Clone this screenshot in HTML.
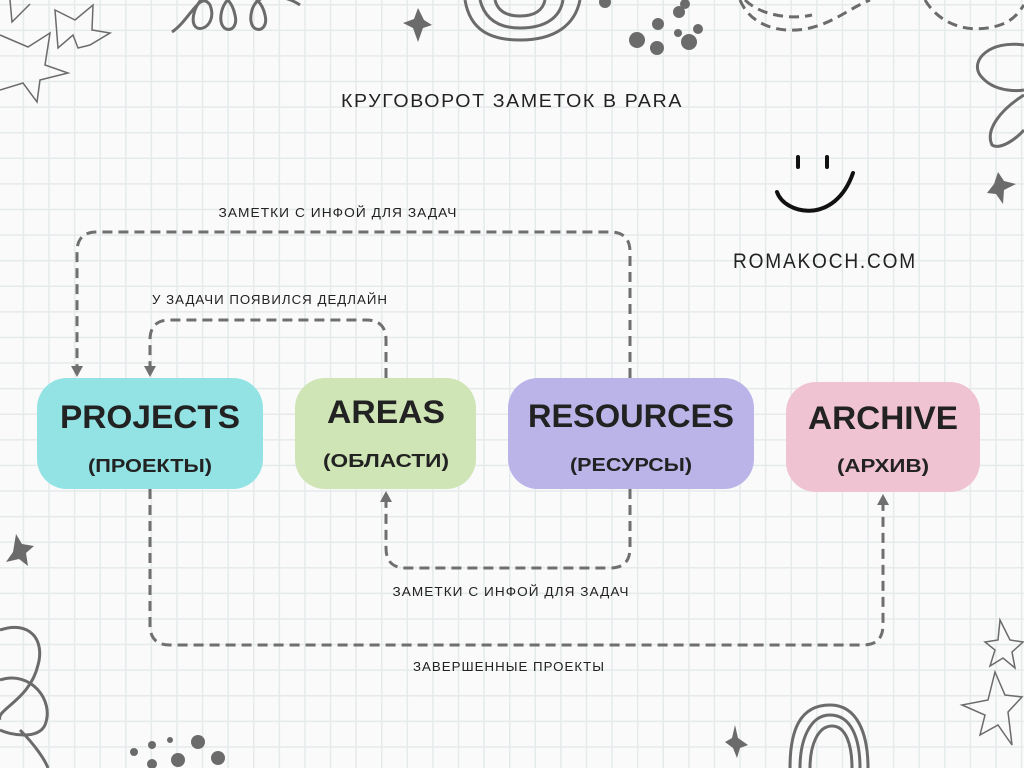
<!DOCTYPE html>
<html><head><meta charset="utf-8"><style>
html,body{margin:0;padding:0}
body{width:1024px;height:768px;background-color:#fafafa;
background-image:linear-gradient(to right,#e5eaea 0,#e5eaea 1.5px,transparent 1.5px),linear-gradient(to bottom,#e5eaea 0,#e5eaea 1.5px,transparent 1.5px);
background-size:25.6px 25.6px;background-position:22.7px 4px}
svg{display:block}
.lbl{font-family:"Liberation Sans",sans-serif;font-size:13px;fill:#222;letter-spacing:1px}
.big{font-family:"Liberation Sans",sans-serif;font-weight:bold;fill:#222}
</style></head><body>
<svg width="1024" height="768" viewBox="0 0 1024 768" xmlns="http://www.w3.org/2000/svg">

<!-- decorations -->
<g fill="none" stroke="#6b6b6b" stroke-width="3">
<path d="M172 32 C190 20 200 -10 210 5 C220 30 185 40 195 10 C205 -15 230 -10 235 15 C240 35 215 35 222 10 C230 -15 260 -10 265 15 C270 35 245 35 252 10 C258 -10 285 -5 300 5"/>
<path d="M465 0 C470 30 490 40 520 40 C555 40 575 25 580 0 M480 0 C485 20 500 28 520 28 C545 28 560 18 563 0 M495 0 C498 12 508 16 520 16 C535 16 543 10 545 0"/>
<path d="M740 0 C750 25 780 35 810 28 C835 22 850 8 870 0" stroke-dasharray="10 6"/>
<path d="M745 0 C760 15 790 20 812 15" stroke-dasharray="10 6"/>
<path d="M925 0 C940 25 970 35 1000 25 C1015 20 1020 10 1024 5" stroke-dasharray="10 6"/>
<path d="M1024 45 C990 40 970 60 980 75 C995 95 1024 90 1024 90 M1024 95 C1000 110 985 130 992 145 C1000 150 1015 140 1024 130"/>
<path d="M0 630 C30 620 45 640 38 665 C30 700 -5 710 0 720 M0 680 C30 670 55 700 45 725 C38 740 10 735 0 730 M20 730 C35 745 45 760 48 768"/>
<path d="M790 768 C790 730 800 705 830 705 C858 705 868 735 868 768 M800 768 C800 740 810 715 830 715 C852 715 860 740 860 768 M810 768 C810 745 818 726 832 726 C846 726 852 745 852 768"/>
</g>
<g fill="none" stroke="#6b6b6b" stroke-width="1.5">
<path d="M10 0 L12 22 L30 4 M55 10 L75 20 L93 5 L92 30 L110 33 L90 45 L78 48 L73 35 L58 48 Z"/>
<path d="M0 35 L28 47 L50 33 L45 65 L68 73 L40 80 L37 102 L23 83 L0 90"/>
<path d="M1000 620 L1010 640 L1023 642 L1012 652 L1015 668 L1003 658 L990 666 L995 650 L985 642 L998 640 Z"/>
<path d="M995 672 L1005 695 L1022 697 L1008 712 L1012 745 L998 725 L980 735 L985 715 L962 705 L988 700 Z"/>
</g>
<g fill="#6b6b6b">
<path d="M418 8 L424 20 L432 25 L423 28 L418 42 L413 28 L403 23 L414 19 Z"/>
<path d="M16 534 L22 544 L34 546 L26 553 L28 566 L19 559 L6 562 L13 552 Z"/>
<path d="M998 172 L1004 181 L1016 184 L1004 190 L1003 204 L996 194 L987 193 L994 184 Z"/>
<path d="M735 725 L738 738 L748 745 L740 748 L737 758 L733 748 L725 742 L732 738 Z"/>
<circle cx="637" cy="40" r="8"/><circle cx="658" cy="24" r="6"/><circle cx="679" cy="12" r="6"/><circle cx="689" cy="42" r="8"/><circle cx="657" cy="48" r="7"/><circle cx="678" cy="33" r="4"/><circle cx="698" cy="29" r="5"/><circle cx="685" cy="4" r="5"/><circle cx="605" cy="2" r="6"/>
<circle cx="198" cy="742" r="7"/><circle cx="218" cy="758" r="7"/><circle cx="178" cy="760" r="7"/><circle cx="152" cy="745" r="4"/><circle cx="170" cy="740" r="3"/><circle cx="134" cy="752" r="4"/><circle cx="152" cy="764" r="5"/>
</g>

<!-- title -->
<text x="512" y="107" text-anchor="middle" class="lbl" style="font-size:18px;letter-spacing:1.5px" textLength="342" lengthAdjust="spacingAndGlyphs">КРУГОВОРОТ ЗАМЕТОК В PARA</text>
<text x="825" y="268" text-anchor="middle" class="lbl" style="font-size:21px;letter-spacing:2px" textLength="184" lengthAdjust="spacingAndGlyphs">ROMAKOCH.COM</text>
<!-- smiley -->
<g stroke="#111" stroke-width="4" stroke-linecap="round" fill="none">
<path d="M798 157 V167 M827 157 V167"/>
<path d="M777 192 C785 215 835 225 853 173"/>
</g>

<!-- connectors -->
<g fill="none" stroke="#6f6f6f" stroke-width="3" stroke-dasharray="10 6">
<path d="M630 378 V252 Q630 232 610 232 H97 Q77 232 77 252 V366"/>
<path d="M386 378 V340 Q386 320 366 320 H170 Q150 320 150 340 V366"/>
<path d="M630 489 V548 Q630 568 610 568 H406 Q386 568 386 548 V502"/>
<path d="M150 489 V625 Q150 645 170 645 H863 Q883 645 883 625 V505"/>
</g>
<g fill="#6f6f6f">
<path d="M71 366 L83 366 L77 377 Z"/>
<path d="M144 366 L156 366 L150 377 Z"/>
<path d="M380 502 L392 502 L386 491 Z"/>
<path d="M877 505 L889 505 L883 494 Z"/>
</g>
<text x="338" y="217" text-anchor="middle" class="lbl" textLength="239" lengthAdjust="spacingAndGlyphs">ЗАМЕТКИ С ИНФОЙ ДЛЯ ЗАДАЧ</text>
<text x="270" y="304" text-anchor="middle" class="lbl" textLength="236" lengthAdjust="spacingAndGlyphs">У ЗАДАЧИ ПОЯВИЛСЯ ДЕДЛАЙН</text>
<text x="511" y="596" text-anchor="middle" class="lbl" textLength="237" lengthAdjust="spacingAndGlyphs">ЗАМЕТКИ С ИНФОЙ ДЛЯ ЗАДАЧ</text>
<text x="509" y="671" text-anchor="middle" class="lbl" textLength="192" lengthAdjust="spacingAndGlyphs">ЗАВЕРШЕННЫЕ ПРОЕКТЫ</text>

<!-- nodes -->
<rect x="37" y="378" width="226" height="111" rx="30" fill="#93e3e5"/>
<rect x="295" y="378" width="181" height="111" rx="30" fill="#cfe5b5"/>
<rect x="508" y="378" width="246" height="111" rx="30" fill="#bab4e8"/>
<rect x="786" y="382" width="194" height="110" rx="30" fill="#f0c3d3"/>

<text x="150" y="428" text-anchor="middle" class="big" style="font-size:32px" textLength="180" lengthAdjust="spacingAndGlyphs">PROJECTS</text>
<text x="150" y="472" text-anchor="middle" class="big" style="font-size:18px" textLength="124" lengthAdjust="spacingAndGlyphs">(ПРОЕКТЫ)</text>
<text x="386" y="423" text-anchor="middle" class="big" style="font-size:32px" textLength="118" lengthAdjust="spacingAndGlyphs">AREAS</text>
<text x="386" y="467" text-anchor="middle" class="big" style="font-size:18px" textLength="126" lengthAdjust="spacingAndGlyphs">(ОБЛАСТИ)</text>
<text x="631" y="427" text-anchor="middle" class="big" style="font-size:32px" textLength="206" lengthAdjust="spacingAndGlyphs">RESOURCES</text>
<text x="631" y="471" text-anchor="middle" class="big" style="font-size:18px" textLength="122" lengthAdjust="spacingAndGlyphs">(РЕСУРСЫ)</text>
<text x="883" y="429" text-anchor="middle" class="big" style="font-size:32px" textLength="150" lengthAdjust="spacingAndGlyphs">ARCHIVE</text>
<text x="883" y="472" text-anchor="middle" class="big" style="font-size:18px" textLength="92" lengthAdjust="spacingAndGlyphs">(АРХИВ)</text>
</svg>
</body></html>
